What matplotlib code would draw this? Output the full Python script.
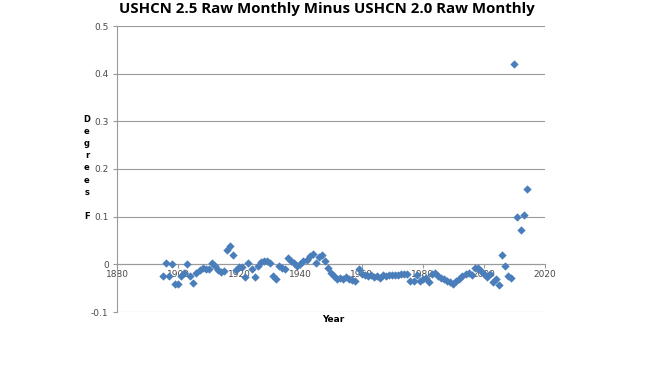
import numpy as np
import matplotlib.pyplot as plt

# years 1895..2014, difference in deg F
years = np.arange(1895, 2015)
diff = [
    -0.025, 0.002, -0.025, 0.000, -0.042, -0.042, -0.024, -0.018, 0.001, -0.024,   # 1895-1904
    -0.040, -0.018, -0.012, -0.007, -0.010, -0.010, 0.002, -0.004, -0.012, -0.016,  # 1905-1914
    -0.015, 0.031, 0.038, 0.019, -0.012, -0.006, -0.006, -0.027, 0.003, -0.009,     # 1915-1924
    -0.027, -0.003, 0.004, 0.008, 0.006, 0.003, -0.025, -0.031, -0.003, -0.007,     # 1925-1934
    -0.010, 0.014, 0.007, 0.003, -0.003, 0.001, 0.006, 0.010, 0.017, 0.021,         # 1935-1944
    0.003, 0.016, 0.020, 0.007, -0.007, -0.019, -0.025, -0.030, -0.028, -0.031,     # 1945-1954
    -0.027, -0.030, -0.033, -0.035, -0.009, -0.020, -0.022, -0.025, -0.022, -0.027, # 1955-1964
    -0.024, -0.028, -0.022, -0.025, -0.023, -0.023, -0.022, -0.023, -0.021, -0.020, # 1965-1974
    -0.020, -0.035, -0.035, -0.022, -0.035, -0.030, -0.028, -0.038, -0.020, -0.018, # 1975-1984
    -0.025, -0.028, -0.031, -0.035, -0.038, -0.042, -0.035, -0.031, -0.024, -0.020, # 1985-1994
    -0.018, -0.022, -0.007, -0.008, -0.015, -0.020, -0.026, -0.021, -0.037, -0.030, # 1995-2004
    -0.044, 0.020, -0.003, -0.025, -0.028, 0.420, 0.100, 0.072, 0.103, 0.158,       # 2005-2014
]

x_ticks = np.arange(1880, 2021, 20)
y_ticks = [-0.1, 0, 0.1, 0.2, 0.3, 0.4, 0.5]
y_labels = ['-0.1', '0', '0.1', '0.2', '0.3', '0.4', '0.5']

grey = '#9a9a9a'
txt = '#4a4a4a'

fig = plt.figure(figsize=(6.6, 3.71), dpi=100)
ax = fig.add_axes([117/660, 1 - 312/371, 428/660, 286/371])

ax.scatter(years, diff, marker='D', s=18, color='#4a7ebb', linewidths=0, zorder=3)

ax.set_xlim(1880, 2020)
ax.set_ylim(-0.1, 0.5)
ax.set_xticks(x_ticks)
ax.set_yticks(y_ticks)
ax.set_yticklabels(y_labels)

for y in y_ticks:
    ax.axhline(y, color=grey, lw=0.8, zorder=1)

for s in ['top', 'right']:
    ax.spines[s].set_visible(False)
ax.spines['left'].set_color(grey)
ax.spines['bottom'].set_color(grey)
ax.spines['bottom'].set_position(('data', 0))

ax.tick_params(axis='both', colors=grey, labelcolor=txt, labelsize=6.5, length=3, width=0.8)
ax.tick_params(axis='x', pad=1)
ax.tick_params(axis='y', pad=3)

fig.text(327/660, 1 - 9/371, 'USHCN 2.5 Raw Monthly Minus USHCN 2.0 Raw Monthly',
         ha='center', va='center', fontsize=10.8, fontweight='bold', color='black',
         family='Open Sans')
fig.text(87/660, 1 - 168/371, 'D\ne\ng\nr\ne\ne\ns\n\nF', ha='center', va='center',
         fontsize=6, fontweight='bold', color='black', linespacing=1.45)
fig.text(333/660, 1 - 320/371, 'Year', ha='center', va='center',
         fontsize=6.5, fontweight='bold', color='black')

fig.savefig('out.png', dpi=100)
